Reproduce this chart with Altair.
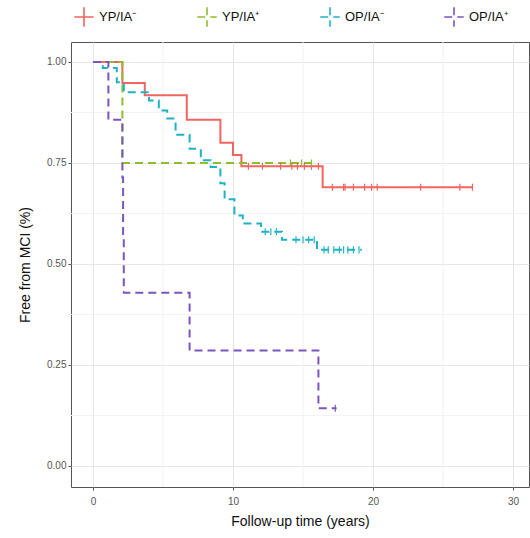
import altair as alt
import pandas as pd

groups = ["YP/IA⁻", "YP/IA⁺", "OP/IA⁻", "OP/IA⁺"]
colors = ["#F2645E", "#8DBE2E", "#1DB3C6", "#7A55C0"]

# step curves (time, survival)
yp_neg_t = [0, 2.1, 3.7, 6.7, 9.1, 10.0, 10.6, 16.4, 27.1]
yp_neg_s = [1.0, 0.948, 0.918, 0.857, 0.80, 0.77, 0.742, 0.69, 0.69]
yp_neg_c = [11.1, 12.1, 13.4, 14.2, 14.6, 15.1, 15.6, 16.1, 17.1, 17.9, 18.0,
            18.6, 19.4, 19.9, 20.3, 23.4, 26.2, 27.1]

yp_pos_t = [0, 2.1, 15.7]
yp_pos_s = [1.0, 0.75, 0.75]
yp_pos_c = [14.1, 14.9, 15.6]

op_neg_t = [0, 0.7, 1.7, 2.2, 4.0, 4.7, 5.3, 5.9, 6.9, 7.7, 8.4, 9.1, 9.4,
            10.1, 10.7, 12.0, 13.5, 16.0, 19.2]
op_neg_s = [1.0, 0.985, 0.95, 0.925, 0.905, 0.88, 0.86, 0.82, 0.785, 0.757,
            0.74, 0.70, 0.66, 0.62, 0.60, 0.58, 0.56, 0.535, 0.535]
op_neg_c = [12.3, 12.7, 13.1, 14.5, 15.0, 15.4, 15.8, 16.5, 16.8, 17.2, 17.6,
            17.9, 18.2, 18.6, 19.0]

op_pos_t = [0, 1.1, 2.1, 2.15, 2.2, 6.9, 16.1, 17.4]
op_pos_s = [1.0, 0.857, 0.714, 0.571, 0.429, 0.286, 0.143, 0.143]
op_pos_c = [17.3]

x_ticks = [0, 10, 20, 30]
y_ticks = [0.0, 0.25, 0.5, 0.75, 1.0]
x_minor = [5, 15, 25]
y_minor = [0.125, 0.375, 0.625, 0.875]

series = [
    (groups[0], yp_neg_t, yp_neg_s, yp_neg_c),
    (groups[1], yp_pos_t, yp_pos_s, yp_pos_c),
    (groups[2], op_neg_t, op_neg_s, op_neg_c),
    (groups[3], op_pos_t, op_pos_s, op_pos_c),
]

rows, cens = [], []
for g, ts, ss, cs in series:
    for t, s in zip(ts, ss):
        rows.append({"group": g, "time": t, "surv": s})
    for c in cs:
        s_at = [s for t, s in zip(ts, ss) if t <= c][-1]
        cens.append({"group": g, "time": c, "surv": s_at})
df = pd.DataFrame(rows)
dc = pd.DataFrame(cens)

xscale = alt.Scale(domain=[-1.57, 31.14], nice=False, zero=False)
yscale = alt.Scale(domain=[-0.052, 1.0495], nice=False, zero=False)
cscale = alt.Scale(domain=groups, range=colors)
dscale = alt.Scale(domain=groups, range=[[1, 0], [8, 5], [8, 5], [8, 5]])

font = "Liberation Sans"

grid_x = alt.Chart(pd.DataFrame({"v": x_minor})).mark_rule(
    color="#F2F2F2", strokeWidth=1).encode(x=alt.X("v:Q", scale=xscale))
grid_y = alt.Chart(pd.DataFrame({"v": y_minor})).mark_rule(
    color="#F2F2F2", strokeWidth=1).encode(y=alt.Y("v:Q", scale=yscale))

lines = alt.Chart(df).mark_line(interpolate="step-after", strokeWidth=2).encode(
    x=alt.X("time:Q", scale=xscale,
            axis=alt.Axis(values=x_ticks, title="Follow-up time (years)",
                          format="d")),
    y=alt.Y("surv:Q", scale=yscale,
            axis=alt.Axis(values=y_ticks, title="Free from MCI (%)",
                          format=".2f")),
    color=alt.Color("group:N", scale=cscale, sort=groups,
                    legend=alt.Legend(
                        title=None, orient="none", direction="horizontal",
                        columns=4, legendX=2, legendY=-36,
                        symbolType="M-1,0L1,0M0,-1L0,1",
                        symbolSize=380, symbolStrokeWidth=1.6,
                        symbolFillColor="transparent",
                        labelFontSize=13, labelFont=font, labelColor="#111",
                        labelOffset=4, columnPadding=57)),
    strokeDash=alt.StrokeDash("group:N", scale=dscale, legend=None),
    detail="group:N",
)

censor = alt.Chart(dc).mark_point(
    shape="M0,-1L0,1", size=50, strokeWidth=1.2, filled=False, opacity=1
).encode(
    x=alt.X("time:Q", scale=xscale),
    y=alt.Y("surv:Q", scale=yscale),
    color=alt.Color("group:N", scale=cscale, legend=None),
)

chart = alt.layer(grid_x, grid_y, lines, censor).properties(
    width=458, height=445,
    autosize=alt.AutoSizeParams(type="none"),
    padding={"left": 71, "top": 42, "right": 1, "bottom": 51},
).configure_view(
    stroke="#555", strokeWidth=1
).configure_axis(
    grid=True, gridColor="#E6E6E6", domain=False,
    tickColor="#555", tickSize=3,
    labelFont=font, labelFontSize=10, labelColor="#555",
    titleFont=font, titleFontSize=14, titleColor="#111",
    titleFontWeight="normal",
).configure_axisX(
    labelPadding=6, titlePadding=8
).configure_axisY(
    labelPadding=2, titlePadding=14
)

chart.save("out.html", embed_options={"renderer": "svg", "actions": False})
